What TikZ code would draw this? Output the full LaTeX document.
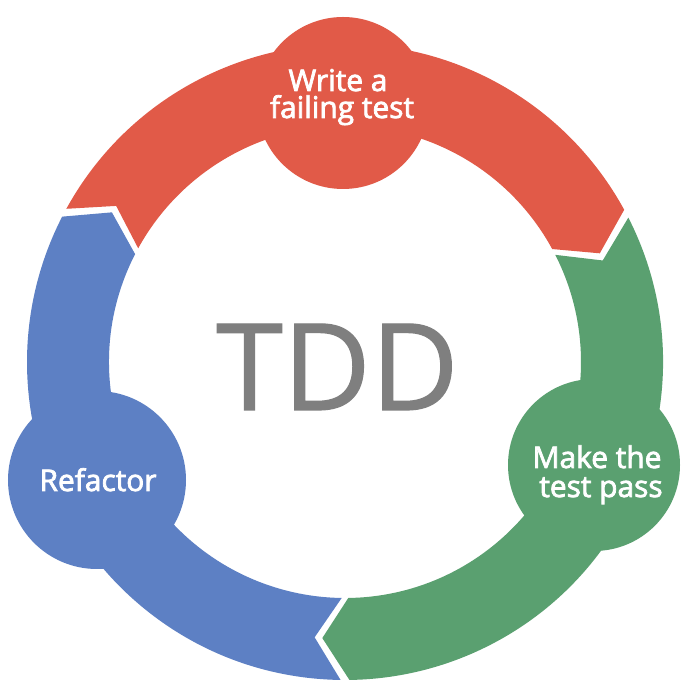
\documentclass[tikz,border=0pt]{standalone}
\usepackage{fontspec}
\setmainfont{Open Sans}
\newfontfamily\labfont[FakeBold=2.5]{Open Sans}
\newfontfamily\tddfont[FakeBold=1]{Open Sans}
\usetikzlibrary{calc}
\definecolor{tddred}{RGB}{225,90,72}
\definecolor{tddblue}{RGB}{93,128,196}
\definecolor{tddgreen}{RGB}{90,160,112}
\definecolor{tddgray}{RGB}{127,127,127}
\newcommand\ringO{318}
\newcommand\ringI{236}
\newcommand\ringM{277}
\newcommand\chev{5.5}
\newcommand\ringseg[3]{%
  \fill[#1] ($(C)+(#2:\ringO)$) arc[start angle=#2, end angle=#3, radius=\ringO]
    -- ($(C)+({#3-\chev}:\ringM)$) -- ($(C)+(#3:\ringI)$)
    arc[start angle=#3, end angle=#2, radius=\ringI]
    -- ($(C)+({#2-\chev}:\ringM)$) -- cycle;}
\begin{document}
\begin{tikzpicture}[x=1bp,y=1bp,
  lbl/.style={text=white, font=\labfont\fontsize{30}{32}\selectfont, inner sep=0pt, anchor=base},
  bubble/.style={circle, inner sep=0pt, draw=none}]
\useasboundingbox (0,0) rectangle (681,684);
\fill[white] (0,0) rectangle (681,684);
\coordinate (C) at (345,322);
% ring segments (clockwise: red -> green -> blue)
\ringseg{tddred}{151.2}{28.6}
\ringseg{tddgreen}{27}{-89.2}
\ringseg{tddblue}{-90.8}{-207.2}
% bubbles
\node[bubble, fill=tddred, minimum size=172bp] (write) at (343,581) {};
\node[bubble, fill=tddblue, minimum size=178bp] (refactor) at (97,204) {};
\node[bubble, fill=tddgreen, minimum size=172bp] (pass) at (594,219) {};
% labels
\node[lbl] (w1) at (338,593) {Write a};
\node[lbl] (w2) at (342,566) {failing test};
\node[lbl] (r1) at (98,193) {Refactor};
\node[lbl] (p1) at (597,216) {Make the};
\node[lbl] (p2) at (601,187) {test pass};
\node[anchor=base, inner sep=0pt, text=tddgray, font=\tddfont\fontsize{121}{121}\selectfont] (tdd) at (337.5,274) {TDD};
\end{tikzpicture}
\end{document}
